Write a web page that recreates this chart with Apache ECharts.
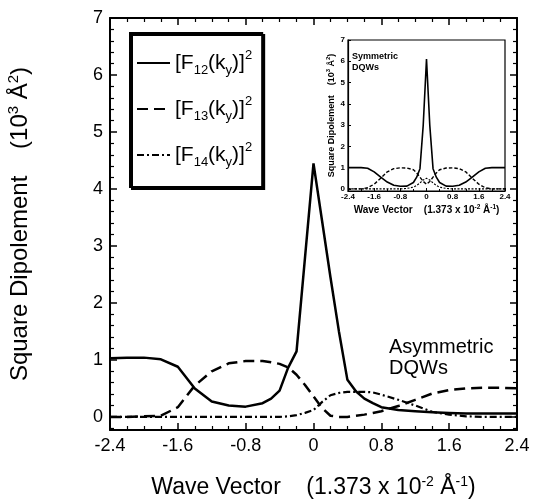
<!DOCTYPE html>
<html><head><meta charset="utf-8">
<script src="https://cdn.jsdelivr.net/npm/echarts@6/dist/echarts.min.js"></script>
<style>html,body{margin:0;padding:0;background:#fff}#c{width:534px;height:503px}</style>
</head><body><div id="c"></div>
<script>
// ---- Main panel (Asymmetric DQWs) ----
const waveVector = [-2.4,-2.2,-2.0,-1.8,-1.6,-1.4,-1.2,-1.0,-0.8,-0.6,-0.5,-0.4,-0.3,-0.2,-0.1,0,0.1,0.2,0.3,0.4,0.5,0.6,0.7,0.8,1.0,1.2,1.4,1.6,1.8,2.0,2.2,2.4];
const f12Asym = [1.03,1.04,1.04,1.01,0.88,0.50,0.27,0.20,0.18,0.24,0.32,0.46,0.86,1.15,2.80,4.45,3.45,2.45,1.50,0.65,0.45,0.32,0.24,0.17,0.12,0.10,0.08,0.07,0.06,0.06,0.06,0.06];
const f13Asym = [0.00,0.00,0.01,0.02,0.17,0.55,0.80,0.94,0.98,0.98,0.96,0.93,0.87,0.74,0.56,0.36,0.16,0.02,0.00,0.00,0.02,0.04,0.07,0.10,0.19,0.30,0.41,0.47,0.50,0.51,0.51,0.50];
const f14Asym = [0.00,0.00,0.00,0.00,0.00,0.00,0.00,0.00,0.00,0.00,0.00,0.00,0.01,0.03,0.07,0.12,0.26,0.38,0.42,0.44,0.44,0.44,0.43,0.39,0.30,0.20,0.09,0.04,0.01,0.00,0.00,0.00];

// ---- Inset panel (Symmetric DQWs) ----
const insetWaveVector = [-2.4,-2.2,-2.0,-1.8,-1.6,-1.4,-1.2,-1.0,-0.8,-0.6,-0.4,-0.3,-0.2,-0.1,0,0.1,0.2,0.3,0.4,0.6,0.8,1.0,1.2,1.4,1.6,1.8,2.0,2.2,2.4];
const f12Sym = [1.00,1.00,1.00,0.97,0.80,0.55,0.32,0.17,0.12,0.13,0.30,0.55,0.95,3.00,6.10,3.00,0.95,0.55,0.30,0.13,0.12,0.17,0.32,0.55,0.80,0.97,1.00,1.00,1.00];
const f13Sym = [0.00,0.00,0.00,0.05,0.22,0.50,0.80,0.95,0.99,0.98,0.90,0.75,0.55,0.35,0.22,0.35,0.55,0.75,0.90,0.98,0.99,0.95,0.80,0.50,0.22,0.05,0.00,0.00,0.00];
const f14Sym = [0.00,0.00,0.00,0.00,0.00,0.00,0.00,0.00,0.00,0.02,0.08,0.16,0.28,0.42,0.50,0.42,0.28,0.16,0.08,0.02,0.00,0.00,0.00,0.00,0.00,0.00,0.00,0.00,0.00];

const seriesNames = ['F12','F13','F14'];
const legendLabels = {
  F12: '[F{s|12}(k{s|y})]{p|2}',
  F13: '[F{s|13}(k{s|y})]{p|2}',
  F14: '[F{s|14}(k{s|y})]{p|2}'
};
const xAxisTitle = 'Wave Vector    (1.373 x 10{p|-2} Å{p|-1})';
const yAxisTitle = 'Square Dipolement    (10{p|3} Å{p|2})';
const mainNote = 'Asymmetric\nDQWs';
const insetNote = 'Symmetric\nDQWs';

const FONT = 'Liberation Sans';
const pairs = (xs, ys) => xs.map((x, i) => [x, ys[i]]);
const xFmt = v => Math.abs(v) < 1e-9 ? '0' : v.toFixed(1);
const yFmt = v => (Math.abs(v - Math.round(v)) < 1e-6 && v > -0.01) ? String(Math.round(v)) : '';

const chart = echarts.init(document.getElementById('c'), null, {renderer: 'canvas'});

// inward-pointing ticks (negative length, outward direction => drawn inside the frame)
const mainTick = {show: true, inside: false, length: -7, lineStyle: {color: '#000', width: 1.5}};

function mainX(pos, withLabels) {
  return {
    type: 'value', gridIndex: 0, position: pos, min: -2.4, max: 2.4, interval: 0.8,
    axisLine: {show: true, onZero: false, lineStyle: {color: '#000', width: 2}},
    axisTick: mainTick,
    minorTick: {show: true, splitNumber: 4, length: -4, lineStyle: {color: '#000', width: 1.2}},
    splitLine: {show: false}, minorSplitLine: {show: false},
    axisLabel: {show: withLabels, formatter: xFmt, fontSize: 18, color: '#000', margin: 7, fontFamily: FONT},
    name: withLabels ? xAxisTitle : '', nameLocation: 'middle', nameGap: 45,
    nameTextStyle: {fontSize: 23, color: '#000', fontFamily: FONT, lineHeight: 26,
      rich: {p: {fontSize: 14, fontFamily: FONT, color: '#000', verticalAlign: 'top', lineHeight: 14}}}
  };
}
function mainY(pos, withLabels) {
  return {
    type: 'value', gridIndex: 0, position: pos, min: -0.23, max: 7, splitNumber: 7,
    axisLine: {show: true, onZero: false, lineStyle: {color: '#000', width: 2}},
    axisTick: mainTick,
    minorTick: {show: true, splitNumber: 5, length: -4, lineStyle: {color: '#000', width: 1.2}},
    splitLine: {show: false}, minorSplitLine: {show: false},
    axisLabel: {show: withLabels, formatter: yFmt, fontSize: 18, color: '#000', margin: 7, fontFamily: FONT},
    name: withLabels ? yAxisTitle : '', nameLocation: 'middle', nameGap: 76, nameRotate: 90,
    nameTextStyle: {fontSize: 24, color: '#000', fontFamily: FONT, lineHeight: 28,
      rich: {p: {fontSize: 15, fontFamily: FONT, color: '#000', verticalAlign: 'top', lineHeight: 15}}}
  };
}

const insetX = {
  type: 'value', gridIndex: 1, min: -2.4, max: 2.4, interval: 0.8,
  axisLine: {show: true, onZero: false, lineStyle: {color: '#000', width: 1.2}},
  axisTick: {show: true, inside: false, length: -3, lineStyle: {color: '#000', width: 1}},
  minorTick: {show: true, splitNumber: 2, length: -2, lineStyle: {color: '#000', width: 1}},
  splitLine: {show: false},
  axisLabel: {formatter: xFmt, fontSize: 8, fontWeight: 'bold', color: '#000', margin: 2, fontFamily: FONT},
  name: xAxisTitle, nameLocation: 'middle', nameGap: 13,
  nameTextStyle: {fontSize: 10, fontWeight: 'bold', color: '#000', fontFamily: FONT, lineHeight: 12,
    rich: {p: {fontSize: 6.5, fontWeight: 'bold', fontFamily: FONT, color: '#000', verticalAlign: 'top', lineHeight: 7}}}
};
const insetY = {
  type: 'value', gridIndex: 1, min: -0.1, max: 7, splitNumber: 7,
  axisLine: {show: true, onZero: false, lineStyle: {color: '#000', width: 1.2}},
  axisTick: {show: true, inside: false, length: -3, lineStyle: {color: '#000', width: 1}},
  splitLine: {show: false},
  axisLabel: {formatter: yFmt, fontSize: 8, fontWeight: 'bold', color: '#000', margin: 3, fontFamily: FONT},
  name: yAxisTitle, nameLocation: 'middle', nameGap: 11, nameRotate: 90,
  nameTextStyle: {fontSize: 9, fontWeight: 'bold', color: '#000', fontFamily: FONT, lineHeight: 11,
    rich: {p: {fontSize: 6, fontWeight: 'bold', fontFamily: FONT, color: '#000', verticalAlign: 'top', lineHeight: 6}}}
};

const mainStyles = [
  {type: 'solid', width: 2.5},
  {type: [11, 6], width: 2.5},
  {type: [7, 3, 2, 3], width: 2.2}
];
const insetStyles = [
  {type: 'solid', width: 1.6},
  {type: [3.5, 2], width: 1.4},
  {type: [2, 1.5], width: 1.1}
];
const mainData = [f12Asym, f13Asym, f14Asym];
const insetData = [f12Sym, f13Sym, f14Sym];

const series = [];
seriesNames.forEach((n, i) => {
  series.push({
    name: n, type: 'line', xAxisIndex: 0, yAxisIndex: 0, symbol: 'none', smooth: false,
    data: pairs(waveVector, mainData[i]),
    lineStyle: Object.assign({color: '#000'}, mainStyles[i]), z: 3
  });
});
seriesNames.forEach((n, i) => {
  series.push({
    name: n + ' sym', type: 'line', xAxisIndex: 2, yAxisIndex: 2, symbol: 'none',
    data: pairs(insetWaveVector, insetData[i]),
    lineStyle: Object.assign({color: '#000'}, insetStyles[i]), z: 3
  });
});

const option = {
  animation: false,
  backgroundColor: '#fff',
  textStyle: {fontFamily: FONT, color: '#000'},
  grid: [
    {left: 110, right: 17, top: 18, bottom: 73, outerBoundsMode: 'none', containLabel: false},
    {left: 348, right: 29, top: 40, bottom: 312, outerBoundsMode: 'none', containLabel: false,
     show: true, backgroundColor: '#fff', borderColor: '#000', borderWidth: 1.2}
  ],
  xAxis: [mainX('bottom', true), mainX('top', false), insetX],
  yAxis: [mainY('left', true), mainY('right', false), insetY],
  legend: {
    data: seriesNames, orient: 'vertical', left: 130, top: 33,
    padding: [16, 10, 18, 6], itemGap: 18, itemWidth: 33, itemHeight: 14,
    backgroundColor: '#fff', borderColor: '#000', borderWidth: 2,
    shadowColor: '#000', shadowOffsetX: 2, shadowOffsetY: 2, shadowBlur: 0,
    itemStyle: {opacity: 0},
    formatter: n => legendLabels[n],
    textStyle: {fontSize: 21, color: '#000', fontFamily: FONT, lineHeight: 28,
      rich: {
        s: {fontSize: 13, fontFamily: FONT, color: '#000', verticalAlign: 'bottom', lineHeight: 13},
        p: {fontSize: 13, fontFamily: FONT, color: '#000', verticalAlign: 'top', lineHeight: 13}
      }}
  },
  graphic: [
    {type: 'text', left: 389, top: 337, z: 10,
     style: {text: mainNote, fontSize: 20, lineHeight: 21, fontFamily: FONT, fill: '#000'}},
    {type: 'text', left: 352, top: 51, z: 10,
     style: {text: insetNote, fontSize: 9, fontWeight: 'bold', lineHeight: 11, fontFamily: FONT, fill: '#000'}}
  ],
  series: series
};
chart.setOption(option);
</script>
</body></html>
